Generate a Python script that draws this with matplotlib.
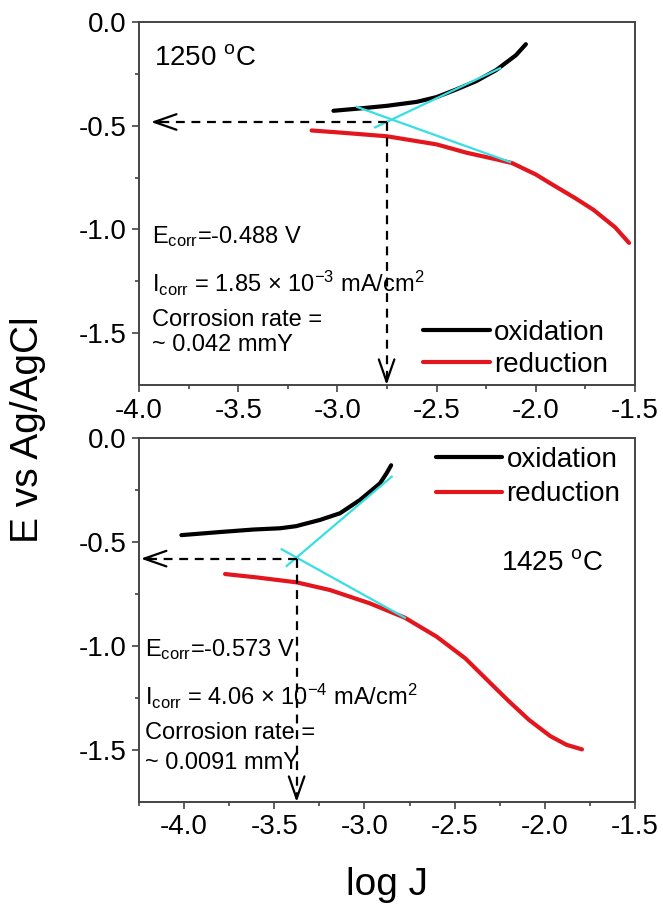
import matplotlib
matplotlib.use('Agg')
import matplotlib.pyplot as plt

plt.rcParams['font.family'] = ['Liberation Sans', 'DejaVu Sans']
plt.rcParams['mathtext.fontset'] = 'custom'
plt.rcParams['mathtext.rm'] = 'Liberation Sans'
plt.rcParams['mathtext.it'] = 'Liberation Sans'
plt.rcParams['axes.unicode_minus'] = False

# 1250 C panel
ox1_x = [-3.02, -2.9, -2.75, -2.6, -2.5, -2.4, -2.3, -2.2, -2.1, -2.05]
ox1_e = [-0.428, -0.418, -0.404, -0.385, -0.362, -0.325, -0.285, -0.232, -0.16, -0.107]
red1_x = [-3.13, -3.0, -2.75, -2.5, -2.35, -2.2, -2.12, -2.0, -1.93, -1.8, -1.71, -1.6, -1.53]
red1_e = [-0.523, -0.532, -0.551, -0.59, -0.63, -0.662, -0.68, -0.735, -0.776, -0.85, -0.905, -0.99, -1.065]
fit1_an_x = [-2.81, -2.18]
fit1_an_e = [-0.508, -0.223]
fit1_ca_x = [-2.90, -2.13]
fit1_ca_e = [-0.41, -0.675]
corr1 = (-2.752, -0.482)

# 1425 C panel
ox2_x = [-4.015, -3.8, -3.615, -3.468, -3.38, -3.247, -3.136, -3.025, -2.914, -2.877, -2.852]
ox2_e = [-0.467, -0.452, -0.44, -0.434, -0.424, -0.394, -0.362, -0.298, -0.218, -0.169, -0.131]
red2_x = [-3.773, -3.6, -3.376, -3.191, -2.97, -2.776, -2.6, -2.44, -2.3, -2.2, -2.088, -1.97, -1.88, -1.794]
red2_e = [-0.654, -0.67, -0.694, -0.731, -0.795, -0.864, -0.955, -1.06, -1.18, -1.265, -1.355, -1.433, -1.475, -1.497]
fit2_an_x = [-3.431, -2.849]
fit2_an_e = [-0.615, -0.186]
fit2_ca_x = [-3.459, -2.776]
fit2_ca_e = [-0.535, -0.864]
corr2 = (-3.376, -0.58)

RED = '#e3161d'
CYAN = '#36dfe3'

fig = plt.figure(figsize=(6.63, 9.11), dpi=100)
ax1 = fig.add_axes([139/663, 1-385/911, 496/663, 363/911])
ax2 = fig.add_axes([139/663, 1-802/911, 496/663, 364/911])


def style(ax, xlim):
    ax.set_xlim(*xlim)
    ax.set_ylim(-1.75, 0)
    ax.set_xticks([-4.0, -3.5, -3.0, -2.5, -2.0, -1.5])
    ax.set_xticks([-3.75, -3.25, -2.75, -2.25, -1.75] + ([-4.25] if xlim[0] < -4.2 else []), minor=True)
    ax.set_yticks([0.0, -0.5, -1.0, -1.5])
    ax.set_yticks([-0.25, -0.75, -1.25], minor=True)
    ax.set_yticklabels(['0.0', '-0.5', '-1.0', '-1.5'])
    ax.set_xticklabels(['-4.0', '-3.5', '-3.0', '-2.5', '-2.0', '-1.5'])
    ax.tick_params(which='major', direction='out', length=5, width=1.1, labelsize=20, color='#333333', pad=4)
    ax.tick_params(which='minor', direction='out', length=3, width=1.1, color='#333333')
    for s in ax.spines.values():
        s.set_color('#444444')
        s.set_linewidth(1.4)


def dashed_arrows(ax, pt, xtip):
    x0, y0 = pt
    ax.plot([x0, xtip + 0.02], [y0, y0], color='k', lw=1.6, ls=(0, (4, 3)))
    ax.plot([x0, x0], [y0, -1.73], color='k', lw=1.6, ls=(0, (4, 3)))
    head = dict(arrowstyle='->,head_length=0.8,head_width=0.28', lw=1.6, color='k',
                shrinkA=0, shrinkB=0, mutation_scale=20)
    ax.annotate('', xy=(xtip, y0), xytext=(xtip + 0.06, y0), arrowprops=head, annotation_clip=False)
    ax.annotate('', xy=(x0, -1.75), xytext=(x0, -1.71), arrowprops=head, annotation_clip=False)


def curves(ax, ox_x, ox_e, red_x, red_e):
    ax.plot(ox_x, ox_e, color='k', lw=3, label='oxidation', solid_joinstyle='round', solid_capstyle='round')
    ax.plot(red_x, red_e, color=RED, lw=3, label='reduction', solid_joinstyle='round', solid_capstyle='round')


# top panel
style(ax1, (-4.0, -1.5))
curves(ax1, ox1_x, ox1_e, red1_x, red1_e)
ax1.plot(fit1_an_x, fit1_an_e, color=CYAN, lw=1.6)
ax1.plot(fit1_ca_x, fit1_ca_e, color=CYAN, lw=1.6)
dashed_arrows(ax1, corr1, -3.94)
ax1.text(0.03, 0.90, '1250 $^{\\rm o}$C', transform=ax1.transAxes, fontsize=20, va='center')
ax1.text(0.026, 0.41, 'E$_{\\rm corr}$=-0.488 V', transform=ax1.transAxes, fontsize=17, va='center')
ax1.text(0.026, 0.28, 'I$_{\\rm corr}$ = 1.85 × 10$^{-3}$ mA/cm$^{2}$', transform=ax1.transAxes, fontsize=17, va='center')
ax1.text(0.026, 0.18, 'Corrosion rate =', transform=ax1.transAxes, fontsize=17, va='center')
ax1.text(0.026, 0.11, '~ 0.042 mmY', transform=ax1.transAxes, fontsize=17, va='center')
ax1.legend(loc='lower left', bbox_to_anchor=(0.573, 0.02), frameon=False, fontsize=20,
           handlelength=2.4, handletextpad=0.15, labelspacing=0.2, borderpad=0, borderaxespad=0)

# bottom panel
style(ax2, (-4.25, -1.5))
curves(ax2, ox2_x, ox2_e, red2_x, red2_e)
ax2.plot(fit2_an_x, fit2_an_e, color=CYAN, lw=1.6)
ax2.plot(fit2_ca_x, fit2_ca_e, color=CYAN, lw=1.6)
dashed_arrows(ax2, corr2, -4.24)
ax2.text(0.73, 0.657, '1425 $^{\\rm o}$C', transform=ax2.transAxes, fontsize=20, va='center')
ax2.text(0.013, 0.42, 'E$_{\\rm corr}$=-0.573 V', transform=ax2.transAxes, fontsize=17, va='center')
ax2.text(0.013, 0.29, 'I$_{\\rm corr}$ = 4.06 × 10$^{-4}$ mA/cm$^{2}$', transform=ax2.transAxes, fontsize=17, va='center')
ax2.text(0.013, 0.19, 'Corrosion rate =', transform=ax2.transAxes, fontsize=17, va='center')
ax2.text(0.013, 0.108, '~ 0.0091 mmY', transform=ax2.transAxes, fontsize=17, va='center')
ax2.legend(loc='upper left', bbox_to_anchor=(0.598, 0.975), frameon=False, fontsize=20,
           handlelength=2.4, handletextpad=0.15, labelspacing=0.3, borderpad=0, borderaxespad=0)

fig.text(0.042, 0.528, 'E vs Ag/AgCl', rotation=90, fontsize=28, ha='center', va='center')
fig.text(387/663, 1-885/911, 'log J', fontsize=28, ha='center', va='center')

fig.savefig('out.png', dpi=100)
